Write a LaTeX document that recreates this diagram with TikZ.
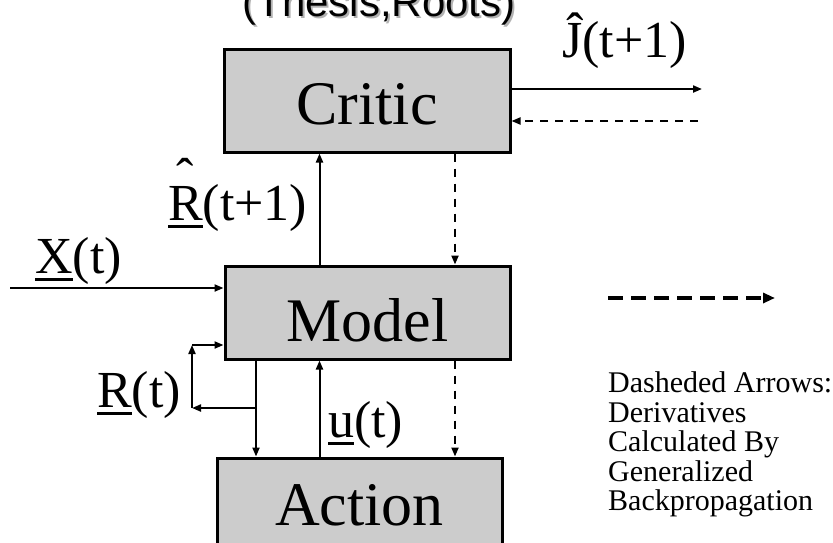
\documentclass[tikz,border=0pt]{standalone}
\usepackage{fontspec}
\setmainfont{Liberation Serif}
\newfontfamily\titlefont{Liberation Sans}
\usetikzlibrary{arrows.meta}
\definecolor{boxgray}{RGB}{204,204,204}
\newcommand\undl[1]{\setbox0\hbox{#1}\rlap{\rule[-8pt]{\wd0}{3pt}}\box0}
\begin{document}
\begin{tikzpicture}[x=1pt,y=-1pt,
    block/.style={draw,line width=3pt,fill=boxgray,inner sep=0pt,text depth=0pt,
      font=\fontsize{62}{62}\selectfont},
    lbl/.style={inner sep=0pt,anchor=base west,font=\fontsize{52}{52}\selectfont},
    sig/.style={line width=2pt,-{Triangle[length=9pt,width=7pt]}},
    deriv/.style={sig,dash pattern=on 8pt off 7pt}]
      \clip (0,0) rectangle (833,542);
      \node[anchor=base,inner sep=0pt,text=gray!60,font=\titlefont\fontsize{42}{42}\selectfont]
        (titleshadow) at (381,18) {(Thesis,Roots)};
      \node[anchor=base,inner sep=0pt,font=\titlefont\fontsize{42}{42}\selectfont]
        (title) at (379,16) {(Thesis,Roots)};
      \node[block,minimum width=286pt,minimum height=103pt,text height=47pt] (critic) at (367,100.5) {Critic};
      \node[block,minimum width=285pt,minimum height=93pt,text height=57pt] (model) at (367.5,312.5) {Model};
      \node[block,minimum width=285pt,minimum height=93pt,text height=41pt] (action) at (359.5,504.5) {Action};
      \node[lbl] (jhat) at (562,57) {Ĵ(t+1)};
      \node[lbl] (rnext) at (168,220) {\undl{R}(t+1)};
      \node[anchor=base,inner sep=0pt,font=\fontsize{52}{52}\selectfont] (rhat) at (185,194) {ˆ};
      \node[lbl] (xlab) at (35,273) {\undl{X}(t)};
      \node[lbl] (rlab) at (97,407) {\undl{R}(t)};
      \node[lbl] (ulab) at (328,437) {\undl{u}(t)};
      \node[anchor=north west,inner sep=0pt,align=left,font=\fontsize{30}{29.5}\selectfont]
        (note) at (608,371.5) {Dasheded Arrows:\\Derivatives\\Calculated By\\Generalized\\Backpropagation};
      \coordinate (up) at (319.5,0);
      \coordinate (down) at (455,0);
      \coordinate (split) at (256,0);
      \coordinate (rjoin) at (256,408);
      \coordinate (rlow) at (192,408);
      \coordinate (rtop) at (192,345);
      \coordinate (xin) at (10,288);
      \coordinate (jout) at (702,89);
      \coordinate (jback) at (698,121);
      \coordinate (legs) at (608,298);
      \coordinate (lege) at (775,298);
      \begin{scope}
        \draw[sig] (model.north -| up) to (critic.south -| up);
        \draw[deriv] (critic.south -| down) to (model.north -| down);
        \draw[deriv] (model.south -| down) to (action.north -| down);
        \draw[sig] (action.north -| up) to (model.south -| up);
        \draw[sig] (model.south -| split) to (action.north -| split);
        \draw[sig] (rjoin) to (rlow);
        \draw[sig] (rlow) to (rtop);
        \draw[sig] (rtop) to (rtop -| model.west);
        \draw[sig] (xin) to (xin -| model.west);
        \draw[sig] (jout -| critic.east) to (jout);
        \draw[deriv] (jback) to (jback -| critic.east);
        \draw[line width=4pt,dash pattern=on 15pt off 8pt,-{Triangle[length=12pt,width=10pt]}] (legs) to (lege);
      \end{scope}
    \end{tikzpicture}
\end{document}
